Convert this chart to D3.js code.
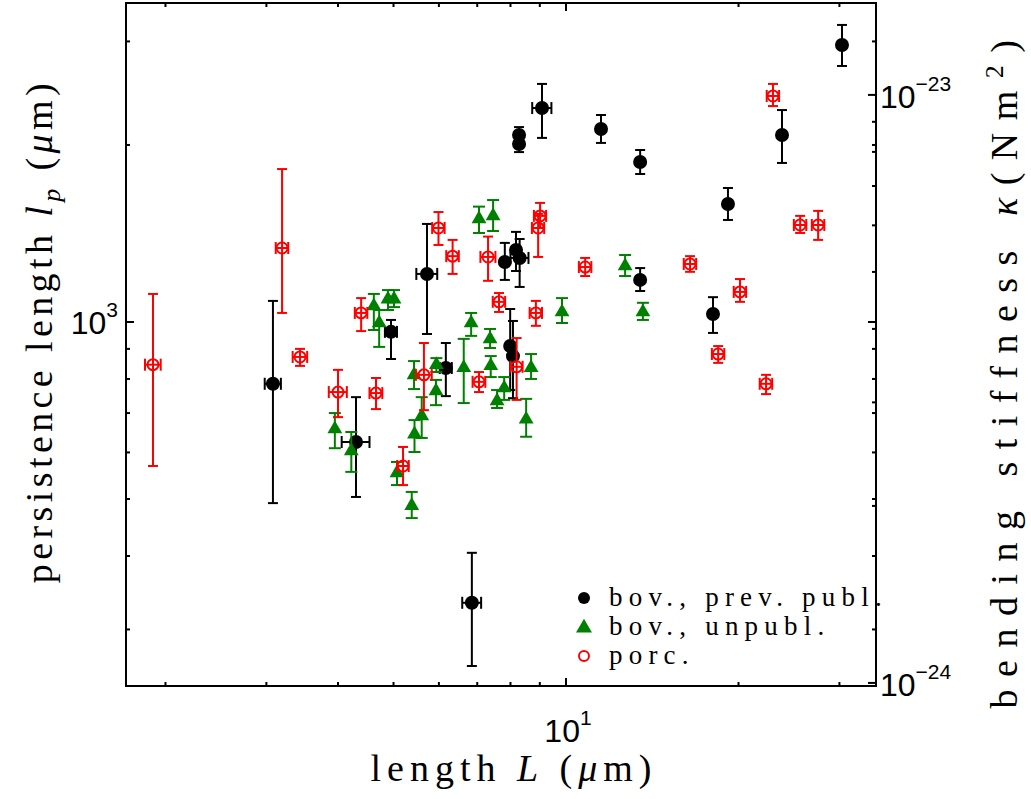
<!DOCTYPE html>
<html><head><meta charset="utf-8">
<script src="https://cdn.jsdelivr.net/npm/d3@7"></script>
<style>body{margin:0;background:#fff}</style>
</head><body>
<svg id="c" width="1031" height="799"></svg>
<script>
// ---- data: bovine, previously published ----
const prevL   = [3.08,4.30,4.95,5.72,6.17,6.85,7.82,8.18,8.30,7.99,8.08,8.28,8.28,9.08,11.51,13.47,13.47,18.05,19.17,23.82,30.31];
const prevLp  = [785,625,962,1207,835,333,1265,1326,1285,910,875,2080,2008,2311,2129,1871,1179,1032,1587,2080,2959];
const prevLo  = [492,504,865,954,748,260,1179,1221,1147,766,742,2016,1945,2056,2016,1785,1129,958,1491,1864,2725];
const prevHi  = [1086,745,1008,1468,921,405,1363,1423,1384,1052,1004,2145,2072,2540,2249,1961,1235,1102,1690,2293,3200];
const prevLerr= [0.10,0.24,0.12,0.24,0.15,0.26,0,0,0.30,0,0,0,0,0.35,0,0,0,0,0,0,0];
// ---- bovine, unpublished ----
const unpL  = [3.95,4.22,4.62,4.72,4.89,5.01,5.43,5.94,5.93,5.60,5.44,5.07,5.38,6.83,6.63,7.37,7.39,7.80,7.58,8.69,8.52,7.05,7.46,9.84,12.68,13.62];
const unpLp = [660,606,1069,1000,1098,1098,816,849,766,695,647,556,489,1000,839,939,846,775,737,839,686,1503,1521,1044,1250,1044];
const unpLo = [610,556,969,907,1048,1060,769,822,722,635,601,528,464,947,728,903,806,737,714,800,638,1417,1428,996,1197,1008];
const unpHi = [700,650,1116,1048,1133,1133,858,868,797,745,681,578,514,1036,936,973,875,806,766,882,740,1571,1612,1098,1300,1078];
// ---- porcine ----
const porcL  = [1.902,3.195,3.434,4.00,4.39,4.66,5.195,5.65,5.99,6.34,7.05,7.31,7.64,8.20,8.86,9.01,8.94,10.80,16.46,18.43,20.12,22.34,22.97,25.62,27.54];
const porcLp = [846,1336,872,760,1036,757,569,813,1445,1294,791,1290,1082,839,1036,1515,1445,1240,1255,882,1125,785,2423,1462,1462];
const porcLo = [569,1036,842,689,965,711,528,708,1352,1207,760,1175,1040,737,985,1445,1290,1197,1217,852,1082,754,2329,1417,1379];
const porcHi = [1116,1820,900,829,1098,803,613,921,1538,1379,822,1397,1120,939,1086,1594,1527,1285,1294,910,1183,813,2540,1515,1545];
const porcLerr=[0.06,0.08,0.10,0.145,0.11,0.12,0.12,0.18,0.15,0.16,0.18,0.22,0.19,0.20,0.22,0.22,0.22,0.27,0.41,0.46,0.50,0.56,0.57,0.64,0.69];

const legendLabels = ["bov., prev. publ.", "bov., unpubl.", "porc."];
const xDomain = [1.7066, 34.75];     // µm
const yDomain = [240.4, 3487];       // µm
const kT = 4.11e-21;                 // J, kappa = kT * lp
const xMajor = [10], yMajor = [1000], kMajor = [1e-24, 1e-23];
const xMajorLabels = ["1"], yMajorLabels = ["3"], kMajorLabels = ["\u221224", "\u221223"];

// ---- layout ----
const L = 126, R = 876, T = 3, B = 686;
const svg = d3.select("#c");
const x = d3.scaleLog().domain(xDomain).range([L, R]);
const y = d3.scaleLog().domain(yDomain).range([B, T]);
const k = d3.scaleLog().domain(yDomain.map(v => v * kT * 1e-6)).range([B, T]);

const sans = "'Liberation Sans', Arial, sans-serif";
const serif = "'Liberation Serif', 'DejaVu Serif', serif";

function isMajor(v){ const e = Math.log10(v); return Math.abs(e - Math.round(e)) < 1e-6; }

// ---- data marks ----
function errorBars(g, Ls, lps, lo, hi, lerr, color, capW){
  Ls.forEach((Lv, i) => {
    const cx = x(Lv);
    g.append("line").attr("x1", cx).attr("x2", cx).attr("y1", y(lo[i])).attr("y2", y(hi[i]))
      .attr("stroke", color).attr("stroke-width", 2);
    [lo[i], hi[i]].forEach(v => g.append("line").attr("x1", cx - capW).attr("x2", cx + capW)
      .attr("y1", y(v)).attr("y2", y(v)).attr("stroke", color).attr("stroke-width", 2));
    if (lerr && lerr[i] > 0) {
      const cy = y(lps[i]);
      const xa = x(Lv - lerr[i]), xb = x(Lv + lerr[i]);
      g.append("line").attr("x1", xa).attr("x2", xb).attr("y1", cy).attr("y2", cy)
        .attr("stroke", color).attr("stroke-width", 2);
      [xa, xb].forEach(xx => g.append("line").attr("x1", xx).attr("x2", xx)
        .attr("y1", cy - 6).attr("y2", cy + 6).attr("stroke", color).attr("stroke-width", 2));
    }
  });
}
const gData = svg.append("g");
const black = "#000000", green = "#008000", red = "#ff0000";
errorBars(gData, prevL, prevLp, prevLo, prevHi, prevLerr, black, 5);
gData.selectAll(null).data(prevL).enter().append("circle")
  .attr("cx", d => x(d)).attr("cy", (d, i) => y(prevLp[i])).attr("r", 7).attr("fill", black);
errorBars(gData, unpL, unpLp, unpLo, unpHi, null, green, 6);
const tri = d3.symbol().type(d3.symbolTriangle).size(95);
gData.selectAll(null).data(unpL).enter().append("path")
  .attr("d", tri).attr("transform", (d, i) => `translate(${x(d)},${y(unpLp[i]) + 1})`).attr("fill", green);
errorBars(gData, porcL, porcLp, porcLo, porcHi, porcLerr, red, 5);
gData.selectAll(null).data(porcL).enter().append("circle")
  .attr("cx", d => x(d)).attr("cy", (d, i) => y(porcLp[i])).attr("r", 5.5)
  .attr("fill", "none").attr("stroke", red).attr("stroke-width", 2);

// ---- axes box and ticks ----
const gAx = svg.append("g").attr("stroke", "#000").attr("stroke-width", 2);
x.ticks().forEach(v => {
  const len = isMajor(v) ? 8 : 4, px = x(v);
  gAx.append("line").attr("x1", px).attr("x2", px).attr("y1", B).attr("y2", B - len);
  gAx.append("line").attr("x1", px).attr("x2", px).attr("y1", T).attr("y2", T + len);
});
y.ticks().forEach(v => {
  const len = isMajor(v) ? 8 : 4, py = y(v);
  gAx.append("line").attr("x1", L).attr("x2", L + len).attr("y1", py).attr("y2", py);
  gAx.append("line").attr("x1", R).attr("x2", R - len).attr("y1", py).attr("y2", py);
});
k.ticks().forEach(v => {
  const len = isMajor(v) ? 8 : 4, py = k(v);
  gAx.append("line").attr("x1", R).attr("x2", R - len).attr("y1", py).attr("y2", py);
});
svg.append("rect").attr("x", L).attr("y", T).attr("width", R - L).attr("height", B - T)
  .attr("fill", "none").attr("stroke", "#000").attr("stroke-width", 2);

// ---- tick labels ----
function powLabel(px, py, exp, anchor){
  const t = svg.append("text").attr("x", px).attr("y", py).attr("font-family", sans)
    .attr("font-size", 32).attr("text-anchor", anchor).attr("fill", "#000");
  t.append("tspan").text("10");
  t.append("tspan").attr("font-size", 21).attr("dy", -17).text(exp);
}
xMajor.forEach((v, i) => powLabel(x(v) + 2, 742, xMajorLabels[i], "middle"));
yMajor.forEach((v, i) => powLabel(118, y(v) + 12, yMajorLabels[i], "end"));
kMajor.forEach((v, i) => powLabel(880, k(v) + 13, kMajorLabels[i], "start"));

// ---- axis titles ----
const titleSize = 38;
const xt = svg.append("text").attr("x", 514).attr("y", 781).attr("text-anchor", "middle")
  .attr("font-family", serif).attr("font-size", titleSize).attr("letter-spacing", 6);
xt.append("tspan").text("length ");
xt.append("tspan").attr("font-style", "italic").text("L");
xt.append("tspan").text(" (");
xt.append("tspan").attr("font-style", "italic").text("\u03bc");
xt.append("tspan").text("m)");

const yt = svg.append("text").attr("transform", "translate(52,331) rotate(-90)").attr("text-anchor", "middle")
  .attr("font-family", serif).attr("font-size", titleSize).attr("letter-spacing", 4.4);
yt.append("tspan").text("persistence length ");
yt.append("tspan").attr("font-style", "italic").text("l");
yt.append("tspan").attr("font-style", "italic").attr("font-size", 26).attr("dy", 8).text("p");
yt.append("tspan").attr("dy", -8).text(" (");
yt.append("tspan").attr("font-style", "italic").text("\u03bc");
yt.append("tspan").text("m)");

const kt = svg.append("text").attr("transform", "translate(1017,368) rotate(-90)").attr("text-anchor", "middle")
  .attr("font-family", serif).attr("font-size", titleSize).attr("letter-spacing", 12.5);
kt.append("tspan").text("bending stiffness ");
kt.append("tspan").attr("font-style", "italic").text("\u03ba");
kt.append("tspan").text("(Nm");
kt.append("tspan").attr("font-size", 26).attr("dy", -14).text("2");
kt.append("tspan").attr("dy", 14).text(")");

// ---- legend ----
const lg = svg.append("g");
const rows = [598, 627, 656];
lg.append("circle").attr("cx", 584).attr("cy", rows[0]).attr("r", 6).attr("fill", black);
lg.append("path").attr("d", d3.symbol().type(d3.symbolTriangle).size(110)).attr("transform", `translate(584,${rows[1] + 1})`).attr("fill", green);
lg.append("circle").attr("cx", 584).attr("cy", rows[2]).attr("r", 5).attr("fill", "none").attr("stroke", red).attr("stroke-width", 2);
legendLabels.forEach((s, i) => lg.append("text").attr("x", 609).attr("y", rows[i] + 8)
  .attr("font-family", serif).attr("font-size", 27).attr("letter-spacing", 6.2).text(s));
</script>
</body></html>
